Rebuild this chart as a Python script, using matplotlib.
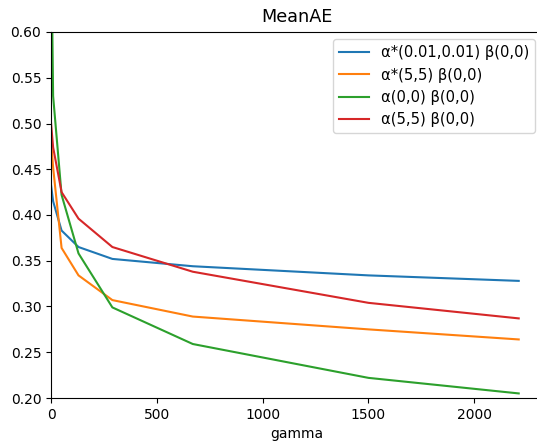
import matplotlib
matplotlib.use("Agg")
import matplotlib.pyplot as plt

gamma = [0, 10, 50, 130, 290, 670, 1500, 2210]

blue = [0.433, 0.415, 0.383, 0.365, 0.352, 0.344, 0.334, 0.328]
orange = [0.482, 0.452, 0.364, 0.334, 0.307, 0.289, 0.275, 0.264]
green = [0.72, 0.53, 0.422, 0.358, 0.299, 0.259, 0.222, 0.205]
red = [0.501, 0.474, 0.425, 0.396, 0.365, 0.338, 0.304, 0.287]

labels = ["α*(0.01,0.01) β(0,0)", "α*(5,5) β(0,0)", "α(0,0) β(0,0)", "α(5,5) β(0,0)"]

fig = plt.figure(figsize=(5.37, 4.46), dpi=100)
# axes run slightly past the right edge, as in the cropped reference
ax = fig.add_axes([51 / 537, 1 - 398 / 446, 491 / 537, 366 / 446])

for ys, lab in zip([blue, orange, green, red], labels):
    ax.plot(gamma, ys, label=lab)

ax.set_xlim(0, 2320)
ax.set_ylim(0.2, 0.6)
ax.set_title("MeanAE", fontsize=12.7, pad=7)
ax.set_xlabel("gamma")
ax.legend(loc="upper right", fontsize=10.6)

fig.savefig("out.png", dpi=100)
